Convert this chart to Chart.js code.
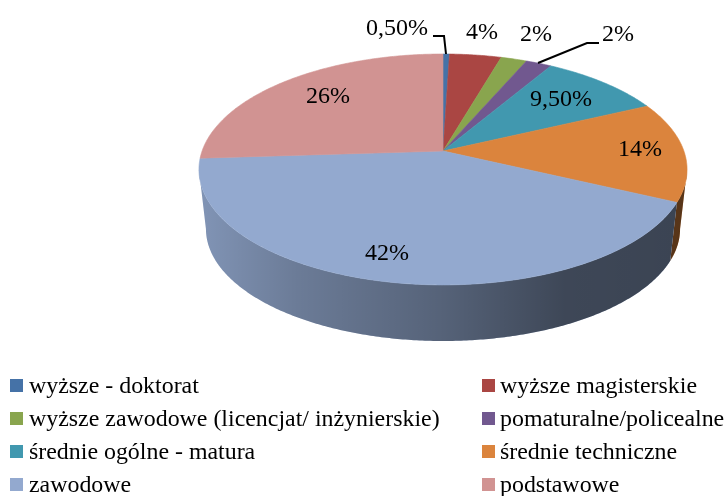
<!DOCTYPE html>
<html lang="pl">
<head>
<meta charset="utf-8">
<style>
html,body{margin:0;padding:0;background:#fff;width:726px;height:496px;overflow:hidden}
#wrap{position:relative;width:726px;height:496px}
canvas{position:absolute;left:0;top:0}
.lg{position:absolute;font:23.9px "Liberation Serif",serif;color:#000;white-space:nowrap;line-height:33px;height:33px}
.sw{position:absolute;width:13px;height:13px}
</style>
<script src="https://cdn.jsdelivr.net/npm/chart.js@4"></script>
</head>
<body>
<div id="wrap"><canvas id="c" width="726" height="496"></canvas></div>
<script>
const categories = ["wyższe - doktorat","wyższe magisterskie","wyższe zawodowe (licencjat/ inżynierskie)","pomaturalne/policealne","średnie ogólne - matura","średnie techniczne","zawodowe","podstawowe"];
const values = [0.5,4,2,2,9.5,14,42,26];
const valueLabels = ["0,50%","4%","2%","2%","9,50%","14%","42%","26%"];
const colors = ["#4572A7","#AA4643","#89A54E","#71588F","#4198AF","#DB843D","#93A9CF","#D19392"];

const labelAnchors = [[397,29],[482,33],[536,35],[618,35],[561,100],[640,150],[387,254],[328,97]];
const leaders = [[[433,36],[444,36],[446,54]],[[599,43],[587,43],[538,63]]];
const legendCols = [[10,29],[482,500]];
const legendRowTop = 369, legendRowStep = 33;

// perspective projection of the pie disc
const topPlane = {cx:443, cy:151, A:240.9, B:112.5, k:0.16};
const floorPlane = {cx:443, cy:211, A:234, B:109.2, k:0.16};
const wallFrom = Math.asin(topPlane.k), wallTo = Math.PI-wallFrom;
function project(p,a){
  const u=Math.cos(a), v=Math.sin(a), d=1-p.k*v;
  return [p.cx+p.A*u/d, p.cy+p.B*v/d];
}
function rim(ctx,p,a0,a1){
  const n=Math.max(2,Math.ceil(Math.abs(a1-a0)/0.01));
  for(let i=0;i<=n;i++){
    const q=project(p,a0+(a1-a0)*i/n);
    ctx.lineTo(q[0],q[1]);
  }
}
Chart.ArcElement.prototype.draw=function(ctx){
  const {startAngle,endAngle}=this.getProps(['startAngle','endAngle'],true);
  ctx.save();
  ctx.beginPath();
  ctx.moveTo(topPlane.cx,topPlane.cy);
  rim(ctx,topPlane,startAngle,endAngle);
  ctx.closePath();
  ctx.fillStyle=this.options.backgroundColor;
  ctx.strokeStyle=this.options.backgroundColor;
  ctx.lineWidth=0.6;
  ctx.fill();ctx.stroke();
  ctx.restore();
};
const depthPlugin={
  id:'depth',
  beforeDatasetsDraw(chart){
    const ctx=chart.ctx, arcs=chart.getDatasetMeta(0).data;
    const g=ctx.createLinearGradient(199,0,687,0);
    g.addColorStop(0,'rgba(0,0,0,0.12)');
    g.addColorStop(0.2,'rgba(0,0,0,0.27)');
    g.addColorStop(0.5,'rgba(0,0,0,0.42)');
    g.addColorStop(0.75,'rgba(0,0,0,0.58)');
    g.addColorStop(1,'rgba(0,0,0,0.6)');
    arcs.forEach(arc=>{
      const {startAngle,endAngle}=arc.getProps(['startAngle','endAngle'],true);
      const a0=Math.max(startAngle,wallFrom), a1=Math.min(endAngle,wallTo);
      if(a1<=a0) return;
      ctx.save();
      ctx.beginPath();
      rim(ctx,topPlane,a0,a1);
      rim(ctx,floorPlane,a1,a0);
      ctx.closePath();
      ctx.fillStyle=arc.options.backgroundColor;
      ctx.fill();
      ctx.fillStyle=g;
      ctx.fill();
      ctx.restore();
    });
  },
  afterDatasetsDraw(chart){
    const ctx=chart.ctx;
    ctx.save();
    ctx.strokeStyle='#000';ctx.lineWidth=2;ctx.lineJoin='miter';
    leaders.forEach(l=>{
      ctx.beginPath();
      l.forEach((q,i)=>i?ctx.lineTo(q[0],q[1]):ctx.moveTo(q[0],q[1]));
      ctx.stroke();
    });
    ctx.fillStyle='#000';
    ctx.font='24px "Liberation Serif", serif';
    ctx.textAlign='center';ctx.textBaseline='middle';
    valueLabels.forEach((t,i)=>ctx.fillText(t,labelAnchors[i][0],labelAnchors[i][1]));
    ctx.restore();
  }
};
new Chart(document.getElementById('c'),{
  type:'pie',
  data:{labels:categories,datasets:[{data:values,backgroundColor:colors,borderWidth:0}]},
  options:{responsive:false,animation:false,
    plugins:{legend:{display:false},tooltip:{enabled:false}}},
  plugins:[depthPlugin]
});
const wrap=document.getElementById('wrap');
categories.forEach((name,i)=>{
  const col=legendCols[i%2], top=legendRowTop+legendRowStep*Math.floor(i/2);
  const s=document.createElement('div');s.className='sw';
  s.style.left=col[0]+'px';s.style.top=(top+10)+'px';s.style.background=colors[i];
  const t=document.createElement('div');t.className='lg';
  t.style.left=col[1]+'px';t.style.top=top+'px';t.textContent=name;
  wrap.append(s,t);
});
</script>
</body>
</html>
